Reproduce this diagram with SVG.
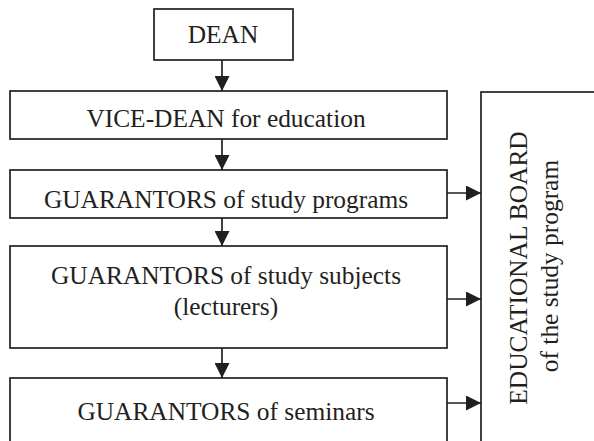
<svg xmlns="http://www.w3.org/2000/svg" width="594" height="441" viewBox="0 0 594 441">
  <style>
    .box { fill: #ffffff; stroke: #231f20; stroke-width: 1.7; }
    .lbl { font-family: 'Liberation Serif', Tinos, 'Times New Roman', Times, 'DejaVu Serif', serif; font-size: 25.4px; fill: #231f20; text-anchor: middle; }
    .link { stroke: #231f20; stroke-width: 1.7; fill: none; marker-end: url(#head); }
  </style>
  <defs>
    <marker id="head" viewBox="0 0 15 15" refX="15" refY="7.5" markerWidth="15" markerHeight="15" markerUnits="userSpaceOnUse" orient="auto">
      <path d="M0,0 L15,7.5 L0,15 Z" fill="#231f20"/>
    </marker>
  </defs>
  <rect width="594" height="441" fill="#ffffff"/>

  <g id="dean">
    <rect class="box" x="154" y="9" width="139" height="51"/>
    <text class="lbl" x="223" y="43">DEAN</text>
  </g>

  <g id="vice-dean">
    <rect class="box" x="10" y="91" width="437" height="48"/>
    <text class="lbl" x="226" y="127">VICE-DEAN for education</text>
  </g>

  <g id="guarantors-programs">
    <rect class="box" x="10" y="170" width="437" height="48"/>
    <text class="lbl" x="226" y="208">GUARANTORS of study programs</text>
  </g>

  <g id="guarantors-subjects">
    <rect class="box" x="10" y="246" width="437" height="102"/>
    <text class="lbl" x="226" y="284">GUARANTORS of study subjects</text>
    <text class="lbl" x="226" y="315">(lecturers)</text>
  </g>

  <g id="guarantors-seminars">
    <rect class="box" x="10" y="378" width="437" height="80"/>
    <text class="lbl" x="226" y="420">GUARANTORS of seminars</text>
  </g>

  <g id="educational-board">
    <rect class="box" x="481" y="92" width="130" height="370"/>
    <text class="lbl" transform="translate(527,268) rotate(-90)">EDUCATIONAL BOARD</text>
    <text class="lbl" transform="translate(558,266) rotate(-90)">of the study program</text>
  </g>

  <g id="connectors">
    <line class="link" x1="222" y1="60" x2="222" y2="91"/>
    <line class="link" x1="222" y1="139" x2="222" y2="170"/>
    <line class="link" x1="222" y1="218" x2="222" y2="246"/>
    <line class="link" x1="222" y1="348" x2="222" y2="378"/>
    <line class="link" x1="447" y1="193" x2="481" y2="193"/>
    <line class="link" x1="447" y1="299" x2="481" y2="299"/>
    <line class="link" x1="447" y1="403" x2="481" y2="403"/>
  </g>
</svg>
